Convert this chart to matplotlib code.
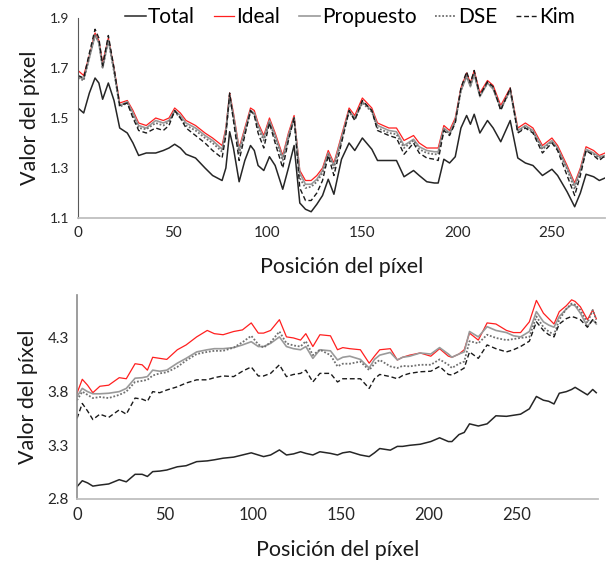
import matplotlib.pyplot as plt

# ---- panel (a) data ----
top_x = [0, 3, 6, 9, 11, 13, 16, 19, 22, 26, 29, 32, 36, 41, 45, 48, 51, 54, 57, 62,
         67, 71, 76, 78, 80, 82, 85, 88, 91, 93, 95, 98, 101, 104, 108, 111, 114, 117, 120, 123,
         126, 129, 132, 135, 139, 143, 146, 150, 155, 158, 164, 168, 172, 177, 180, 184, 188, 190, 193, 196,
         199, 202, 205, 207, 209, 212, 216, 219, 223, 228, 232, 236, 240, 245, 250, 253, 258, 262, 265, 268,
         272, 275, 278]
top_total = [1.54, 1.52, 1.60, 1.66, 1.64, 1.575, 1.64, 1.57, 1.46, 1.44, 1.40, 1.35, 1.36, 1.36, 1.37, 1.38, 1.395, 1.38, 1.355, 1.34,
             1.30, 1.27, 1.25, 1.30, 1.445, 1.38, 1.245, 1.33, 1.39, 1.37, 1.31, 1.29, 1.345, 1.31, 1.215, 1.30, 1.39, 1.16, 1.135, 1.125,
             1.155, 1.19, 1.255, 1.195, 1.335, 1.40, 1.37, 1.42, 1.375, 1.33, 1.33, 1.33, 1.265, 1.29, 1.27, 1.245, 1.24, 1.24, 1.335, 1.32,
             1.345, 1.46, 1.51, 1.475, 1.515, 1.44, 1.49, 1.46, 1.405, 1.49, 1.34, 1.32, 1.31, 1.27, 1.295, 1.27, 1.205, 1.145, 1.20, 1.275,
             1.265, 1.25, 1.26]
top_ideal = [1.69, 1.67, 1.75, 1.84, 1.81, 1.72, 1.82, 1.70, 1.56, 1.57, 1.53, 1.48, 1.47, 1.50, 1.49, 1.50, 1.54, 1.52, 1.49, 1.47,
             1.44, 1.42, 1.39, 1.46, 1.60, 1.52, 1.38, 1.46, 1.54, 1.53, 1.48, 1.43, 1.50, 1.44, 1.35, 1.44, 1.51, 1.29, 1.25, 1.25,
             1.27, 1.30, 1.37, 1.32, 1.43, 1.54, 1.51, 1.58, 1.54, 1.48, 1.46, 1.46, 1.41, 1.43, 1.40, 1.38, 1.38, 1.38, 1.47, 1.45,
             1.50, 1.62, 1.68, 1.64, 1.69, 1.60, 1.65, 1.63, 1.55, 1.62, 1.46, 1.48, 1.46, 1.39, 1.42, 1.39, 1.31, 1.24, 1.30, 1.385,
             1.37, 1.35, 1.36]
top_prop = [1.665, 1.655, 1.74, 1.83, 1.80, 1.70, 1.81, 1.69, 1.55, 1.565, 1.52, 1.47, 1.46, 1.49, 1.48, 1.49, 1.53, 1.51, 1.48, 1.46,
            1.43, 1.41, 1.375, 1.45, 1.59, 1.51, 1.37, 1.45, 1.53, 1.52, 1.47, 1.42, 1.49, 1.43, 1.34, 1.43, 1.50, 1.28, 1.235, 1.235,
            1.255, 1.29, 1.36, 1.31, 1.42, 1.53, 1.50, 1.565, 1.53, 1.47, 1.45, 1.445, 1.39, 1.415, 1.385, 1.37, 1.365, 1.365, 1.46, 1.44,
            1.49, 1.61, 1.665, 1.625, 1.675, 1.585, 1.64, 1.615, 1.54, 1.61, 1.45, 1.47, 1.45, 1.38, 1.41, 1.38, 1.30, 1.23, 1.29, 1.375,
            1.36, 1.345, 1.35]
top_dse = [1.66, 1.65, 1.745, 1.835, 1.805, 1.70, 1.815, 1.685, 1.545, 1.56, 1.51, 1.46, 1.455, 1.48, 1.47, 1.485, 1.525, 1.50, 1.47, 1.45,
           1.42, 1.40, 1.365, 1.44, 1.59, 1.50, 1.36, 1.44, 1.525, 1.515, 1.46, 1.41, 1.485, 1.42, 1.33, 1.42, 1.50, 1.26, 1.22, 1.225,
           1.245, 1.28, 1.355, 1.30, 1.41, 1.525, 1.495, 1.56, 1.525, 1.46, 1.44, 1.435, 1.38, 1.41, 1.375, 1.36, 1.355, 1.355, 1.455, 1.435,
           1.485, 1.61, 1.67, 1.63, 1.68, 1.59, 1.64, 1.62, 1.535, 1.61, 1.445, 1.465, 1.445, 1.375, 1.405, 1.375, 1.295, 1.215, 1.285, 1.37,
           1.355, 1.34, 1.345]
top_kim = [1.67, 1.66, 1.76, 1.855, 1.82, 1.71, 1.83, 1.70, 1.55, 1.56, 1.50, 1.45, 1.44, 1.46, 1.45, 1.47, 1.53, 1.50, 1.46, 1.43,
           1.40, 1.37, 1.34, 1.43, 1.60, 1.49, 1.33, 1.43, 1.53, 1.51, 1.44, 1.38, 1.48, 1.40, 1.30, 1.41, 1.50, 1.22, 1.17, 1.17,
           1.20, 1.25, 1.35, 1.27, 1.40, 1.53, 1.49, 1.57, 1.53, 1.45, 1.43, 1.42, 1.355, 1.40, 1.36, 1.34, 1.335, 1.33, 1.45, 1.43,
           1.48, 1.62, 1.685, 1.64, 1.69, 1.59, 1.645, 1.625, 1.53, 1.62, 1.44, 1.46, 1.44, 1.36, 1.40, 1.37, 1.27, 1.19, 1.27, 1.37,
           1.35, 1.33, 1.35]

# ---- panel (b) data ----
bot_x = [0, 3, 6, 9, 13, 18, 24, 28, 33, 37, 40, 43, 47, 51, 57, 62, 68, 74, 78, 83,
         89, 94, 99, 103, 106, 110, 115, 119, 123, 127, 130, 134, 138, 144, 148, 151, 155, 161, 166, 169,
         172, 178, 182, 185, 189, 195, 201, 206, 211, 213, 217, 220, 223, 228, 233, 238, 244, 248, 252, 257,
         261, 265, 268, 271, 274, 278, 281, 283, 286, 290, 293, 295]
bot_total = [2.915, 2.97, 2.95, 2.92, 2.93, 2.94, 2.98, 2.96, 3.03, 3.03, 3.01, 3.055, 3.06, 3.07, 3.10, 3.11, 3.148, 3.155, 3.165, 3.18,
             3.19, 3.21, 3.23, 3.21, 3.195, 3.21, 3.257, 3.21, 3.22, 3.24, 3.225, 3.21, 3.24, 3.225, 3.21, 3.23, 3.24, 3.21, 3.195, 3.23,
             3.27, 3.255, 3.29, 3.29, 3.30, 3.31, 3.335, 3.37, 3.335, 3.335, 3.40, 3.42, 3.50, 3.48, 3.50, 3.575, 3.57, 3.58, 3.59, 3.64,
             3.755, 3.72, 3.71, 3.685, 3.785, 3.80, 3.82, 3.84, 3.81, 3.77, 3.82, 3.79]
bot_ideal = [3.785, 3.915, 3.86, 3.79, 3.85, 3.86, 3.93, 3.92, 4.06, 4.05, 4.00, 4.12, 4.11, 4.10, 4.19, 4.235, 4.31, 4.37, 4.34, 4.33,
             4.36, 4.375, 4.44, 4.345, 4.345, 4.37, 4.47, 4.31, 4.30, 4.28, 4.34, 4.22, 4.33, 4.32, 4.19, 4.21, 4.20, 4.19, 4.065, 4.13,
             4.19, 4.20, 4.095, 4.12, 4.14, 4.16, 4.13, 4.20, 4.13, 4.12, 4.15, 4.19, 4.345, 4.28, 4.44, 4.43, 4.37, 4.35, 4.35, 4.45,
             4.65, 4.53, 4.48, 4.43, 4.545, 4.60, 4.655, 4.64, 4.59, 4.47, 4.56, 4.48]
bot_prop = [3.755, 3.83, 3.80, 3.78, 3.78, 3.785, 3.80, 3.83, 3.925, 3.93, 3.94, 4.00, 3.99, 4.00, 4.065, 4.11, 4.17, 4.19, 4.20, 4.20,
            4.21, 4.235, 4.265, 4.22, 4.22, 4.25, 4.31, 4.22, 4.20, 4.19, 4.22, 4.11, 4.19, 4.18, 4.095, 4.12, 4.13, 4.10, 4.02, 4.10,
            4.14, 4.165, 4.095, 4.12, 4.13, 4.16, 4.15, 4.21, 4.15, 4.12, 4.15, 4.17, 4.36, 4.31, 4.405, 4.37, 4.35, 4.32, 4.31, 4.36,
            4.545, 4.45, 4.42, 4.40, 4.50, 4.57, 4.61, 4.60, 4.53, 4.405, 4.47, 4.43]
bot_dse = [3.72, 3.80, 3.77, 3.74, 3.75, 3.74, 3.77, 3.80, 3.89, 3.90, 3.91, 3.95, 3.97, 3.98, 4.03, 4.09, 4.15, 4.17, 4.18, 4.18,
           4.21, 4.26, 4.32, 4.24, 4.21, 4.26, 4.36, 4.25, 4.23, 4.22, 4.27, 4.14, 4.19, 4.14, 4.035, 4.06, 4.06, 4.08, 4.00, 4.06,
           4.095, 4.035, 4.02, 4.04, 4.035, 4.05, 4.05, 4.10, 4.05, 4.02, 4.06, 4.08, 4.27, 4.25, 4.33, 4.30, 4.28, 4.29, 4.30, 4.31,
           4.50, 4.40, 4.36, 4.33, 4.47, 4.57, 4.62, 4.61, 4.56, 4.44, 4.56, 4.47]
bot_kim = [3.55, 3.69, 3.62, 3.54, 3.59, 3.56, 3.63, 3.59, 3.74, 3.73, 3.71, 3.80, 3.79, 3.815, 3.845, 3.88, 3.91, 3.91, 3.93, 3.946,
           3.94, 3.99, 4.03, 3.946, 3.946, 3.97, 4.05, 3.94, 3.96, 3.97, 4.00, 3.89, 3.97, 3.97, 3.89, 3.92, 3.92, 3.92, 3.83, 3.92,
           3.96, 3.94, 3.92, 3.95, 3.97, 3.985, 3.99, 4.035, 3.96, 3.955, 3.99, 4.02, 4.17, 4.11, 4.235, 4.20, 4.17, 4.19, 4.22, 4.27,
           4.45, 4.37, 4.33, 4.31, 4.43, 4.48, 4.50, 4.49, 4.47, 4.40, 4.47, 4.44]

plt.rcParams['font.family'] = ['Lato', 'DejaVu Sans']

fig = plt.figure(figsize=(6.09, 5.62), dpi=100)
ax1 = fig.add_axes([78 / 609, 1 - 218 / 562, 527 / 609, 200 / 562])
ax2 = fig.add_axes([77 / 609, 1 - 499 / 562, 521 / 609, 204 / 562])


def draw(ax, x, total, ideal, prop, dse, kim):
    ax.plot(x, total, color='#262626', lw=1.1, label='Total')
    ax.plot(x, ideal, color='#ff1f1f', lw=0.9, label='Ideal')
    ax.plot(x, prop, color='#9a9a9a', lw=1.2, label='Propuesto')
    ax.plot(x, dse, color='#707070', lw=1.3, ls=(0, (1, 1)), label='DSE')
    ax.plot(x, kim, color='#1a1a1a', lw=1.0, ls=(0, (3.5, 2)), label='Kim')
    for s in ['top', 'right']:
        ax.spines[s].set_visible(False)
    ax.spines['bottom'].set_color('#bfbfbf')
    ax.spines['bottom'].set_linewidth(1.3)
    ax.tick_params(length=0, pad=6, colors='#262626')
    ax.set_xlabel('Posición del píxel', fontsize=15.5, color='#1a1a1a', labelpad=12)
    ax.set_ylabel('Valor del píxel', fontsize=15.5, color='#1a1a1a', labelpad=7)


draw(ax1, top_x, top_total, top_ideal, top_prop, top_dse, top_kim)
ax1.set_xlim(0, 278)
ax1.set_ylim(1.1, 1.9)
ax1.set_yticks([1.1, 1.3, 1.5, 1.7, 1.9])
ax1.set_xticks([0, 50, 100, 150, 200, 250])
ax1.spines['left'].set_color('#595959')
ax1.spines['left'].set_linewidth(0.8)
ax1.tick_params(axis='y', labelsize=10)
ax1.tick_params(axis='x', labelsize=11)

draw(ax2, bot_x, bot_total, bot_ideal, bot_prop, bot_dse, bot_kim)
ax2.set_xlim(0, 296)
ax2.set_ylim(2.8, 4.7)
ax2.set_yticks([2.8, 3.3, 3.8, 4.3])
ax2.set_xticks([0, 50, 100, 150, 200, 250])
ax2.spines['left'].set_color('#8c8c8c')
ax2.spines['left'].set_linewidth(1.2)
ax2.tick_params(axis='y', labelsize=11)
ax2.tick_params(axis='x', labelsize=12)

ax1.legend(ncol=5, loc='center', bbox_to_anchor=(350 / 609, 1 - 17 / 562),
           bbox_transform=fig.transFigure, frameon=False, fontsize=15,
           handlelength=1.0, handletextpad=0.1, columnspacing=0.9)

fig.savefig('out.png', dpi=100)
